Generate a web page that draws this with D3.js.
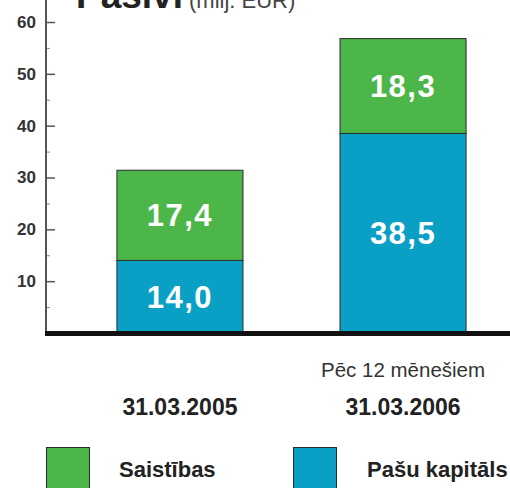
<!DOCTYPE html>
<html>
<head>
<meta charset="utf-8">
<script src="https://cdn.jsdelivr.net/npm/d3@7"></script>
<style>
html,body{margin:0;padding:0;background:#fff;}
svg{display:block;}
text{font-family:"Liberation Sans","Open Sans",sans-serif;}
</style>
</head>
<body>
<svg id="chart" width="510" height="488"></svg>
<script>
const categories = ["31.03.2005", "31.03.2006"];
const categoryNotes = ["", "Pēc 12 mēnešiem"];
const seriesNames = ["Pašu kapitāls", "Saistības"];
const equity = [14.0, 38.5];
const liabilities = [17.4, 18.3];
const valueLabels = [["14,0", "38,5"], ["17,4", "18,3"]];
const majorTicks = [10, 20, 30, 40, 50, 60];
const minorTicks = [5, 15, 25, 35, 45, 55];
const titleMain = "Pasīvi";
const titleUnit = "(milj. EUR)";
const legendOrder = ["Saistības", "Pašu kapitāls"];

const colors = {"Saistības": "#4cb748", "Pašu kapitāls": "#0aa0c6"};

const svg = d3.select("#chart");
const axisX = 46, baseY = 333;

const x = d3.scaleBand().domain(categories).range([50, 533]).paddingInner(0.435).paddingOuter(0.3);
const y = d3.scaleLinear().domain([0, 60]).range([baseY, 22]);

const table = categories.map((c, i) => ({cat: c, "Pašu kapitāls": equity[i], "Saistības": liabilities[i]}));
const stack = d3.stack().keys(seriesNames)(table);

// title (cut off at top)
const title = svg.append("text").attr("x", 76).attr("y", 8).attr("fill", "#222");
title.append("tspan").attr("font-size", 37).attr("font-weight", "bold").text(titleMain);
title.append("tspan").attr("font-size", 22).attr("fill", "#444").attr("dx", 6).text(titleUnit);

// bars
stack.forEach((s, si) => {
  svg.append("g").selectAll("rect").data(s).join("rect")
    .attr("x", d => x(d.data.cat))
    .attr("width", x.bandwidth())
    .attr("y", d => y(d[1]))
    .attr("height", d => y(d[0]) - y(d[1]))
    .attr("fill", colors[s.key])
    .attr("stroke", "#2b2b2b").attr("stroke-width", 1);
  svg.append("g").selectAll("text").data(s).join("text")
    .attr("x", d => x(d.data.cat) + x.bandwidth() / 2)
    .attr("y", d => (y(d[0]) + y(d[1])) / 2 + 11)
    .attr("text-anchor", "middle")
    .attr("fill", "#fff").attr("font-size", 31).attr("font-weight", "bold")
    .attr("letter-spacing", 1.5)
    .text((d, i) => valueLabels[si][i]);
});

// y axis
const axisG = svg.append("g").attr("transform", `translate(${axisX},0)`);
axisG.call(d3.axisLeft(y).tickValues(majorTicks).tickSize(-9).tickSizeOuter(0).tickPadding(10).tickFormat(d3.format("d")));
axisG.select(".domain").remove();
axisG.selectAll(".tick line").attr("stroke", "#555").attr("stroke-width", 1.5);
axisG.selectAll(".tick text").attr("font-size", 17).attr("font-weight", "bold").attr("fill", "#333")
  .attr("font-family", "Liberation Sans, sans-serif");
const minorG = svg.append("g").attr("transform", `translate(${axisX},0)`);
minorG.call(d3.axisLeft(y).tickValues(minorTicks).tickSize(-4).tickSizeOuter(0).tickFormat(""));
minorG.select(".domain").remove();
minorG.selectAll(".tick line").attr("stroke", "#888").attr("stroke-width", 1);
svg.append("line").attr("x1", axisX).attr("x2", axisX).attr("y1", 0).attr("y2", y(0))
  .attr("stroke", "#555").attr("stroke-width", 2);

// baseline
svg.append("line").attr("x1", axisX - 1).attr("x2", 510).attr("y1", y(0) + 0.5).attr("y2", y(0) + 0.5)
  .attr("stroke", "#111").attr("stroke-width", 5);

// category labels
svg.append("g").selectAll("text").data(categories).join("text")
  .attr("x", d => x(d) + x.bandwidth() / 2).attr("y", 415)
  .attr("text-anchor", "middle").attr("font-size", 23).attr("font-weight", "bold").attr("fill", "#222")
  .text(d => d);
svg.append("g").selectAll("text").data(categories).join("text")
  .attr("x", d => x(d) + x.bandwidth() / 2).attr("y", 377)
  .attr("text-anchor", "middle").attr("font-size", 20.5).attr("fill", "#333")
  .text((d, i) => categoryNotes[i]);

// legend
const legX = [46, 293], legTextX = [119, 367];
legendOrder.forEach((k, i) => {
  svg.append("rect").attr("x", legX[i] + 0.5).attr("y", 447.5).attr("width", 43).attr("height", 50)
    .attr("fill", colors[k]).attr("stroke", "#2b2b2b").attr("stroke-width", 1);
  svg.append("text").attr("x", legTextX[i]).attr("y", 477)
    .attr("font-size", 22).attr("font-weight", "bold").attr("fill", "#222").text(k);
});
</script>
</body>
</html>
